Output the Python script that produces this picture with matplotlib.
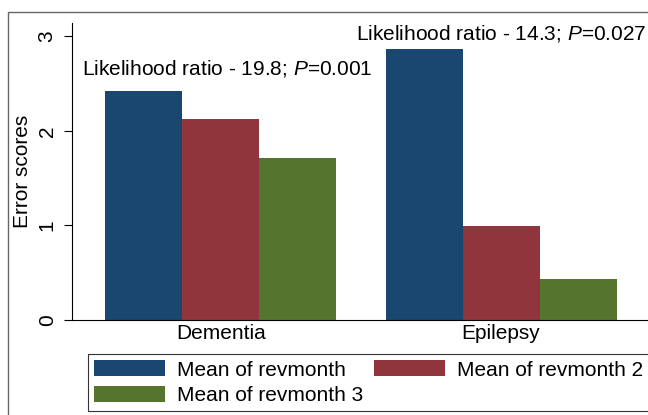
import matplotlib.pyplot as plt
import numpy as np
from matplotlib.patches import Patch, Rectangle

categories = ['Dementia', 'Epilepsy']
revmonth = [2.42, 2.86]
revmonth2 = [2.13, 0.99]
revmonth3 = [1.71, 0.43]
series_names = ['Mean of revmonth', 'Mean of revmonth 2', 'Mean of revmonth 3']
colors = ['#1a476f', '#90353b', '#55752f']
notes = [r'Likelihood ratio - 19.8; $\it{P}$=0.001', r'Likelihood ratio - 14.3; $\it{P}$=0.027']

plt.rcParams['font.family'] = ['Liberation Sans', 'DejaVu Sans']
plt.rcParams['mathtext.fontset'] = 'custom'
plt.rcParams['mathtext.rm'] = 'Liberation Sans'
plt.rcParams['mathtext.it'] = 'Liberation Sans:italic'

W, H = 648, 415
fs = 15
fig = plt.figure(figsize=(W / 100, H / 100), dpi=100)

# outer frame, cut off on the right and bottom like the source image
fig.patches.append(Rectangle((8 / W, -0.1), 1.2, 1 - 12 / H + 0.1, transform=fig.transFigure,
                             fill=False, edgecolor='#666666', linewidth=1.0))

ax = fig.add_axes([72 / W, (H - 320) / H, (650 - 72) / W, (320 - 23) / H])
x = np.arange(len(categories))
bw = 0.275
for i, vals in enumerate([revmonth, revmonth2, revmonth3]):
    ax.bar(x + (i - 1) * bw, vals, bw, color=colors[i], edgecolor='none')

ax.set_xlim(-0.532, 1.532)
ax.set_ylim(0, 3.14)
ax.set_yticks([0, 1, 2, 3])
ax.set_yticklabels(['0', '1', '2', '3'], rotation=90, va='center', fontsize=fs)
ax.tick_params(axis='y', length=6, width=0.8, pad=5)
ax.set_xticks(x)
ax.set_xticklabels(categories, fontsize=fs)
ax.tick_params(axis='x', length=0, pad=3)
ax.spines['top'].set_visible(False)
ax.spines['right'].set_visible(False)
ax.set_ylabel('Error scores', fontsize=fs, labelpad=4)

ax.text(-0.496, 2.66, notes[0], ha='left', va='center', fontsize=fs)
ax.text(0.482, 3.03, notes[1], ha='left', va='center', fontsize=fs, clip_on=False)

handles = [Patch(facecolor=c, edgecolor='none') for c in colors]
order = [0, 2, 1]
leg = fig.legend([handles[i] for i in order], [series_names[i] for i in order],
                 loc='upper left', bbox_to_anchor=(88 / W, 1 - 354 / H), ncol=2,
                 fontsize=fs, frameon=True, fancybox=False, edgecolor='black',
                 handlelength=3.4, handleheight=0.82, handletextpad=0.58, columnspacing=0.53,
                 borderpad=0.3, labelspacing=0.3, borderaxespad=0)
leg.get_frame().set_linewidth(0.8)

fig.savefig('out.png', dpi=100)
